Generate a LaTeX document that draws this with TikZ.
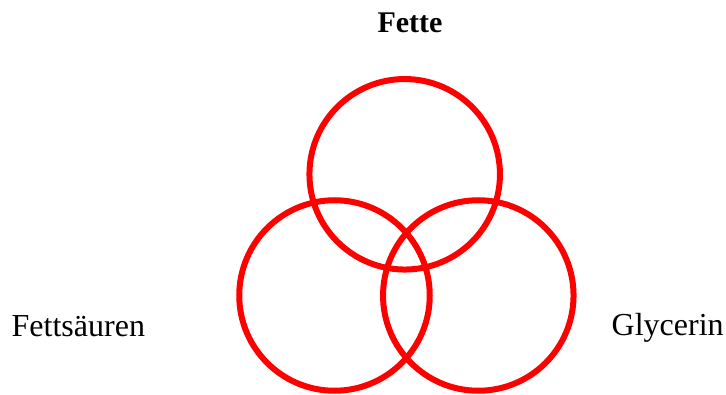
\documentclass[tikz,border=0pt]{standalone}
\usepackage{fontspec}
\setmainfont{Liberation Serif}
\begin{document}
\begin{tikzpicture}[x=1pt,y=1pt,
  ring/.style={draw=red,line width=6pt,circle,minimum size=190.5pt,inner sep=0pt},
  lbl/.style={font=\fontsize{32}{38}\selectfont,inner sep=0pt,anchor=base west}]
\useasboundingbox (0,0) rectangle (726,394);
\node[ring] (top) at (404.7,219.7) {};
\node[ring] (left) at (334.5,98.5) {};
\node[ring] (right) at (478.3,98.5) {};
\node[font=\fontsize{30}{36}\selectfont\bfseries,inner sep=0pt,anchor=base] (fette) at (410,361) {Fette};
\node[lbl] (fs) at (11.5,57) {Fettsäuren};
\node[lbl] (gly) at (611.5,58.5) {Glycerin};
\end{tikzpicture}
\end{document}
